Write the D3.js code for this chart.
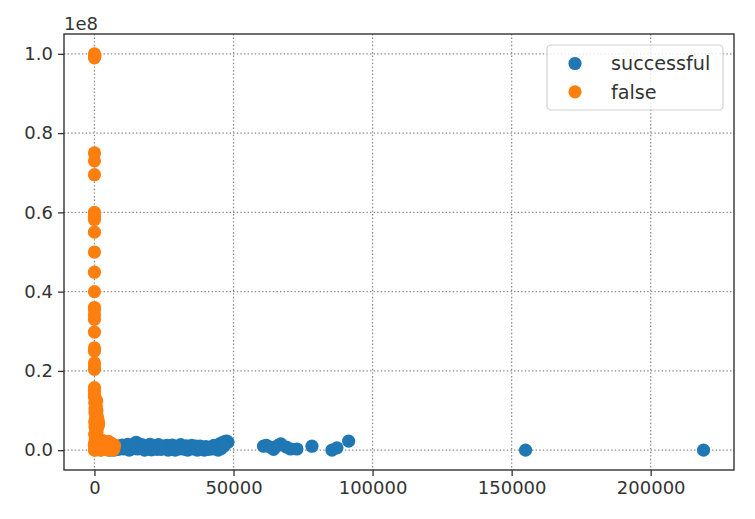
<!DOCTYPE html>
<html>
<head>
<meta charset="utf-8">
<script src="https://cdn.jsdelivr.net/npm/d3@7"></script>
<style>
html,body{margin:0;padding:0;background:#fff;}
svg{display:block;font-family:"DejaVu Sans",sans-serif;}
</style>
</head>
<body>
<svg id="chart" width="755" height="519"></svg>
<script>
// ---- data ----
const seriesNames = ["successful", "false"];
const seriesColors = ["#1f77b4", "#ff7f0e"];

const successX = [2000,3000,4000,5000,5500,6000,7000,8000,9000,10000,11000,12000,12500,13000,14000,15000,16000,17000,18000,19000,20000,20500,21000,22000,23000,24000,25000,26000,26500,27000,28000,29000,30000,31000,32000,33000,33500,34000,35000,36000,37000,38000,39000,39500,40000,41000,42000,43000,44000,44500,45000,46000,47000,47600,48000,
  2500,3500,4500,6500,7500,8500,9500,10500,11500,13500,14500,15500,16500,17500,18500,19500,21500,22500,23500,24500,25500,27500,28500,29500,30500,31500,32500,34500,35500,36500,37500,38500,40500,41500,42500,43500,45500,46500,
  60800,61800,63200,64400,66000,67000,69000,70500,72800,78200,85400,87200,91400,155000,219000];
const successY = [0.005,0.010,0.002,0.012,0.000,0.006,0.000,0.011,0.004,0.013,0.008,0.015,0.000,0.002,0.010,0.020,0.006,0.014,0.000,0.012,0.015,0.001,0.004,0.011,0.014,0.002,0.009,0.012,0.000,0.006,0.013,0.000,0.010,0.014,0.005,0.011,0.000,0.003,0.012,0.008,0.000,0.010,0.004,0.000,0.009,0.002,0.006,0.012,0.008,0.000,0.016,0.019,0.022,0.023,0.020,
  0.001,0.006,0.009,0.003,0.008,0.002,0.010,0.003,0.005,0.006,0.014,0.003,0.009,0.004,0.008,0.003,0.008,0.002,0.007,0.010,0.004,0.002,0.009,0.005,0.003,0.008,0.002,0.007,0.003,0.010,0.005,0.002,0.005,0.008,0.003,0.004,0.004,0.010,
  0.010,0.012,0.008,0.002,0.012,0.016,0.008,0.003,0.003,0.010,0.000,0.006,0.023,0.000,0.000].map(v => v * 1e8);

const falseX = [0,200,0,0,0,0,0,0,0,0,0,0,0,0,0,0,0,0,0,0,0,0,0,0,0,0,
  300,800,100,600,900,200,700,1000,400,1100,1300,800,200,1000,500,900,100,700,1000,300,800,0,600,1000,0,400,
  0,500,200,800,100,600,300,900,0,500,1500,1400,1200,
  1500,2500,3500,4500,5500,6500,7000,3000,5000,2000,6000,4000,1800,2800,3800,4800,5800,6800,
  1500,3000,5000,6000,7200];
const falseY = [1.000,0.995,0.990,0.750,0.730,0.695,0.600,0.590,0.582,0.550,0.500,0.449,0.400,0.360,0.355,0.342,0.330,0.298,0.258,0.250,0.220,0.210,0.204,0.158,0.150,0.140,
  0.130,0.125,0.120,0.110,0.100,0.095,0.090,0.085,0.080,0.075,0.070,0.065,0.060,0.055,0.050,0.045,0.040,0.035,0.030,0.025,0.020,0.015,0.010,0.005,0.000,0.003,
  0.135,0.115,0.105,0.088,0.072,0.058,0.042,0.028,0.012,0.001,0.068,0.062,0.078,
  0.018,0.020,0.022,0.015,0.012,0.008,0.004,0.005,0.000,0.000,0.002,0.010,0.008,0.012,0.002,0.020,0.006,0.001,
  0.025,0.024,0.022,0.018,0.012].map(v => v * 1e8);

const xTicks = [0, 50000, 100000, 150000, 200000];
const yTicks = [0, 0.2e8, 0.4e8, 0.6e8, 0.8e8, 1.0e8];
const offsetLabel = "1e8";

// ---- layout ----
const svg = d3.select("#chart");
const L = 64, R = 734, T = 34, B = 470;

const allX = successX.concat(falseX), allY = successY.concat(falseY);
const xmin = d3.min(allX), xmax = d3.max(allX);
const ymin = d3.min(allY), ymax = d3.max(allY);
const xm = (xmax - xmin) * 0.05, ym = (ymax - ymin) * 0.05;
const x = d3.scaleLinear().domain([xmin - xm, xmax + xm]).range([L, R]);
const y = d3.scaleLinear().domain([ymin - ym, ymax + ym]).range([B, T]);

// grid
const grid = svg.append("g");
grid.selectAll("line.gx").data(xTicks).join("line")
  .attr("x1", d => x(d)).attr("x2", d => x(d)).attr("y1", T).attr("y2", B)
  .attr("stroke", "#8a8a8a").attr("stroke-width", 1.3).attr("stroke-dasharray", "1.4,2.2");
grid.selectAll("line.gy").data(yTicks).join("line")
  .attr("y1", d => y(d)).attr("y2", d => y(d)).attr("x1", L).attr("x2", R)
  .attr("stroke", "#8a8a8a").attr("stroke-width", 1.3).attr("stroke-dasharray", "1.4,2.2");

// points
const r = 6.6;
const series = [
  {name: seriesNames[0], color: seriesColors[0], xs: successX, ys: successY},
  {name: seriesNames[1], color: seriesColors[1], xs: falseX, ys: falseY}
];
series.forEach(s => {
  svg.append("g").selectAll("circle").data(s.xs.map((v, i) => [v, s.ys[i]])).join("circle")
    .attr("cx", d => x(d[0])).attr("cy", d => y(d[1])).attr("r", r)
    .attr("fill", s.color);
});

// axes
const xAxis = d3.axisBottom(x).tickValues(xTicks).tickFormat(d3.format("d")).tickSize(6).tickPadding(5);
const yAxis = d3.axisLeft(y).tickValues(yTicks).tickFormat(d => (d / 1e8).toFixed(1)).tickSize(6).tickPadding(5);
const gx = svg.append("g").attr("transform", `translate(0,${B})`).call(xAxis);
const gy = svg.append("g").attr("transform", `translate(${L},0)`).call(yAxis);
[gx, gy].forEach(g => {
  g.select(".domain").remove();
  g.selectAll(".tick line").attr("stroke", "#333").attr("stroke-width", 1.3);
  g.selectAll(".tick text").attr("fill", "#333").attr("font-size", 18)
    .attr("font-family", "DejaVu Sans, sans-serif");
});

// frame
svg.append("rect").attr("x", L).attr("y", T).attr("width", R - L).attr("height", B - T)
  .attr("fill", "none").attr("stroke", "#333").attr("stroke-width", 1.4);

// offset label
svg.append("text").attr("x", L).attr("y", 30).attr("font-size", 18).attr("fill", "#333")
  .text(offsetLabel);

// legend
const lg = svg.append("g");
lg.append("rect").attr("x", 547).attr("y", 45).attr("width", 176).attr("height", 65)
  .attr("rx", 4).attr("fill", "#fff").attr("fill-opacity", 0.8)
  .attr("stroke", "#d0d0d0").attr("stroke-width", 1.2);
series.forEach((s, i) => {
  const cy = 63.5 + i * 28.3;
  lg.append("circle").attr("cx", 575).attr("cy", cy).attr("r", r).attr("fill", s.color);
  lg.append("text").attr("x", 611).attr("y", cy).attr("dy", "0.35em")
    .attr("font-size", 19.2).attr("fill", "#333").text(s.name);
});
</script>
</body>
</html>
